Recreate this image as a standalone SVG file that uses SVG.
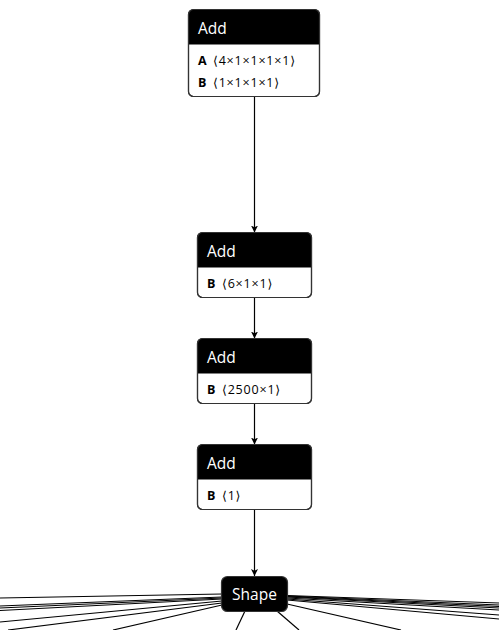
<svg xmlns="http://www.w3.org/2000/svg" width="499" height="630" viewBox="0 0 499 630">
<defs>
<marker id="arr" viewBox="0 0 10 10" refX="10" refY="5" markerWidth="7" markerHeight="7" markerUnits="userSpaceOnUse" orient="auto">
<path d="M0,0 L10,5 L0,10 L2.5,5 Z" fill="#000"/>
</marker>
<clipPath id="c1"><rect x="188.5" y="9.5" width="131" height="87" rx="5"/></clipPath>
<clipPath id="c2"><rect x="197.5" y="232.5" width="114" height="65" rx="5"/></clipPath>
<clipPath id="c3"><rect x="197.5" y="338.5" width="114" height="65" rx="5"/></clipPath>
<clipPath id="c4"><rect x="197.5" y="444.5" width="114" height="65" rx="5"/></clipPath>
</defs>
<style>
.box{fill:#fff;stroke:#333;stroke-width:1.2}
.hdr{fill:#000}
.t{font-family:"Open Sans","Noto Sans","DejaVu Sans",sans-serif;font-size:15.5px;fill:#fff}
.a{font-family:"Open Sans","Noto Sans","DejaVu Sans",sans-serif;font-size:12.5px;fill:#000}
.v{letter-spacing:0.8px}
.b{font-weight:bold}
.e{stroke:#000;stroke-width:1.2;fill:none}
</style>
<g id="connectors">
<line class="e" x1="254.5" y1="96.5" x2="254.5" y2="232.5" marker-end="url(#arr)"/>
<line class="e" x1="254.5" y1="297.5" x2="254.5" y2="338.5" marker-end="url(#arr)"/>
<line class="e" x1="254.5" y1="403.5" x2="254.5" y2="444.5" marker-end="url(#arr)"/>
<line class="e" x1="254.5" y1="509.5" x2="254.5" y2="576" marker-end="url(#arr)"/>
<line class="e" x1="222" y1="594" x2="0" y2="598"/>
<line class="e" x1="222" y1="597" x2="0" y2="606"/>
<line class="e" x1="222" y1="598" x2="0" y2="608"/>
<line class="e" x1="222" y1="599" x2="0" y2="610.5"/>
<line class="e" x1="222" y1="601" x2="0" y2="622"/>
<line class="e" x1="222" y1="603" x2="8" y2="630"/>
<line class="e" x1="222" y1="605" x2="113" y2="630"/>
<line class="e" x1="245" y1="611" x2="236" y2="630"/>
<line class="e" x1="277" y1="611" x2="299" y2="630"/>
<line class="e" x1="287" y1="604" x2="401" y2="630"/>
<line class="e" x1="287" y1="600" x2="499" y2="619"/>
<line class="e" x1="287" y1="599" x2="499" y2="615"/>
<line class="e" x1="287" y1="598" x2="499" y2="610"/>
<line class="e" x1="287" y1="597" x2="499" y2="608"/>
<line class="e" x1="287" y1="596.5" x2="499" y2="606.5"/>
<line class="e" x1="287" y1="596" x2="499" y2="605"/>
<line class="e" x1="287" y1="595.5" x2="499" y2="603"/>
</g>
<g id="node1">
<rect class="box" x="188.5" y="9.5" width="131" height="87" rx="5"/>
<rect class="hdr" x="188.5" y="9.5" width="131" height="35" clip-path="url(#c1)"/>
<rect x="188.5" y="9.5" width="131" height="87" rx="5" fill="none" stroke="#333" stroke-width="1.2"/>
<text class="t" x="198" y="33.5">Add</text>
<text class="a" y="65"><tspan class="b" x="198">A</tspan><tspan class="v" x="213">⟨4×1×1×1×1⟩</tspan></text>
<text class="a" y="87"><tspan class="b" x="198">B</tspan><tspan class="v" x="213">⟨1×1×1×1⟩</tspan></text>
</g>
<g id="node2">
<rect class="box" x="197.5" y="232.5" width="114" height="65" rx="5"/>
<rect class="hdr" x="197.5" y="232.5" width="114" height="35" clip-path="url(#c2)"/>
<rect x="197.5" y="232.5" width="114" height="65" rx="5" fill="none" stroke="#333" stroke-width="1.2"/>
<text class="t" x="207" y="256.5">Add</text>
<text class="a" y="288"><tspan class="b" x="207">B</tspan><tspan class="v" x="222">⟨6×1×1⟩</tspan></text>
</g>
<g id="node3">
<rect class="box" x="197.5" y="338.5" width="114" height="65" rx="5"/>
<rect class="hdr" x="197.5" y="338.5" width="114" height="35" clip-path="url(#c3)"/>
<rect x="197.5" y="338.5" width="114" height="65" rx="5" fill="none" stroke="#333" stroke-width="1.2"/>
<text class="t" x="207" y="362.5">Add</text>
<text class="a" y="394"><tspan class="b" x="207">B</tspan><tspan class="v" x="222">⟨2500×1⟩</tspan></text>
</g>
<g id="node4">
<rect class="box" x="197.5" y="444.5" width="114" height="65" rx="5"/>
<rect class="hdr" x="197.5" y="444.5" width="114" height="35" clip-path="url(#c4)"/>
<rect x="197.5" y="444.5" width="114" height="65" rx="5" fill="none" stroke="#333" stroke-width="1.2"/>
<text class="t" x="207" y="468.5">Add</text>
<text class="a" y="500"><tspan class="b" x="207">B</tspan><tspan class="v" x="222">⟨1⟩</tspan></text>
</g>
<g id="shape">
<rect x="221.5" y="576.5" width="66" height="35" rx="6" fill="#000" stroke="#333" stroke-width="1.2"/>
<text class="t" x="254.5" y="600" text-anchor="middle">Shape</text>
</g>
</svg>
